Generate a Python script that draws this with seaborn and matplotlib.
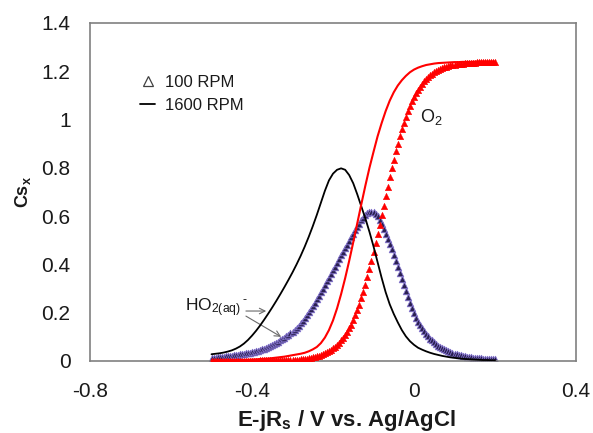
import numpy as np
import pandas as pd
import matplotlib
matplotlib.use("Agg")
import matplotlib.pyplot as plt
from matplotlib.lines import Line2D
import seaborn as sns

# ---------------- data ----------------
# 100 RPM series (markers), potential step 0.005 V from -0.5 to 0.2 V
ho2_100 = [
    0.012, 0.013, 0.014, 0.015, 0.016, 0.017, 0.018, 0.019, 0.020, 0.021,
    0.022, 0.023, 0.024, 0.0255, 0.027, 0.0285, 0.030, 0.0315, 0.033, 0.0345,
    0.036, 0.038, 0.040, 0.0425, 0.045, 0.048, 0.051, 0.0545, 0.058, 0.062,
    0.066, 0.0705, 0.075, 0.080, 0.085, 0.0905, 0.096, 0.102, 0.108, 0.115,
    0.122, 0.130, 0.138, 0.147, 0.156, 0.167, 0.178, 0.190, 0.202, 0.215,
    0.228, 0.242, 0.256, 0.270, 0.285, 0.300, 0.315, 0.330, 0.345, 0.360,
    0.376, 0.391, 0.407, 0.422, 0.437, 0.452, 0.467, 0.482, 0.497, 0.512,
    0.527, 0.541, 0.555, 0.569, 0.582, 0.593, 0.603, 0.611, 0.617, 0.619,
    0.617, 0.610, 0.600, 0.585, 0.568, 0.548, 0.528, 0.507, 0.485, 0.462,
    0.438, 0.413, 0.388, 0.363, 0.338, 0.313, 0.288, 0.264, 0.240, 0.218,
    0.198, 0.180, 0.163, 0.148, 0.135, 0.123, 0.112, 0.102, 0.093, 0.085,
    0.077, 0.070, 0.064, 0.058, 0.053, 0.048, 0.044, 0.040, 0.037, 0.034,
    0.031, 0.028, 0.026, 0.024, 0.022, 0.020, 0.018, 0.0165, 0.015, 0.014,
    0.013, 0.012, 0.011, 0.0105, 0.010, 0.0095, 0.009, 0.0085, 0.008, 0.0075,
    0.007,
]
o2_100 = [
    0.0005, 0.0005, 0.0006, 0.0006, 0.0007, 0.0007, 0.0008, 0.0008, 0.0009, 0.0009,
    0.0010, 0.0010, 0.0011, 0.0011, 0.0012, 0.0013, 0.0013, 0.0014, 0.0015, 0.0016,
    0.0017, 0.0018, 0.0019, 0.0020, 0.0021, 0.0022, 0.0023, 0.0024, 0.0025, 0.0026,
    0.0027, 0.0028, 0.0029, 0.0030, 0.0031, 0.0032, 0.0033, 0.0034, 0.0035, 0.0037,
    0.004, 0.005, 0.005, 0.006, 0.007, 0.008, 0.009, 0.010, 0.012, 0.013,
    0.015, 0.017, 0.019, 0.022, 0.025, 0.028, 0.032, 0.036, 0.041, 0.046,
    0.052, 0.059, 0.066, 0.075, 0.085, 0.095, 0.107, 0.120, 0.135, 0.151,
    0.169, 0.189, 0.210, 0.234, 0.259, 0.286, 0.315, 0.346, 0.379, 0.413,
    0.450, 0.487, 0.525, 0.565, 0.604, 0.644, 0.683, 0.722, 0.761, 0.798,
    0.833, 0.868, 0.900, 0.931, 0.960, 0.987, 1.011, 1.034, 1.056, 1.075,
    1.092, 1.108, 1.122, 1.135, 1.147, 1.158, 1.167, 1.175, 1.183, 1.189,
    1.195, 1.200, 1.205, 1.209, 1.213, 1.216, 1.219, 1.221, 1.224, 1.226,
    1.227, 1.229, 1.230, 1.231, 1.232, 1.233, 1.234, 1.235, 1.235, 1.236,
    1.236, 1.237, 1.237, 1.238, 1.238, 1.238, 1.238, 1.239, 1.239, 1.239,
    1.239,
]
# 1600 RPM series (lines), potential step 0.01 V from -0.5 to 0.2 V
ho2_1600 = [
    0.028, 0.030, 0.032, 0.035, 0.039, 0.044, 0.051, 0.060, 0.072, 0.087,
    0.105, 0.125, 0.147, 0.171, 0.196, 0.222, 0.249, 0.277, 0.306, 0.336,
    0.367, 0.400, 0.435, 0.473, 0.514, 0.558, 0.605, 0.655, 0.705, 0.748,
    0.776, 0.792, 0.798, 0.792, 0.770, 0.736, 0.690, 0.640, 0.590, 0.535,
    0.475, 0.410, 0.345, 0.285, 0.235, 0.195, 0.160, 0.128, 0.102, 0.082,
    0.067, 0.055, 0.047, 0.040, 0.034, 0.029, 0.025, 0.021, 0.018, 0.015,
    0.013, 0.011, 0.009, 0.008, 0.007, 0.006, 0.005, 0.004, 0.004, 0.003,
    0.003,
]
o2_1600 = [
    0.001, 0.001, 0.002, 0.002, 0.002, 0.003, 0.003, 0.004, 0.004, 0.005,
    0.006, 0.007, 0.008, 0.009, 0.010, 0.012, 0.014, 0.016, 0.018, 0.021,
    0.024, 0.027, 0.030, 0.034, 0.040, 0.048, 0.058, 0.074, 0.097, 0.128,
    0.168, 0.218, 0.277, 0.343, 0.415, 0.492, 0.571, 0.650, 0.727, 0.800,
    0.866, 0.930, 0.985, 1.035, 1.078, 1.113, 1.141, 1.163, 1.181, 1.196,
    1.207, 1.215, 1.221, 1.226, 1.229, 1.232, 1.234, 1.235, 1.236, 1.237,
    1.238, 1.238, 1.239, 1.239, 1.239, 1.240, 1.240, 1.240, 1.240, 1.240,
    1.240,
]
E_start, E_end = -0.5, 0.2
xticks = [-0.8, -0.4, 0.0, 0.4]
xticklabels = ["-0.8", "-0.4", "0", "0.4"]
yticks = [0, 0.2, 0.4, 0.6, 0.8, 1.0, 1.2, 1.4]
yticklabels = ["0", "0.2", "0.4", "0.6", "0.8", "1", "1.2", "1.4"]

E_slow = np.linspace(E_start, E_end, len(ho2_100))
E_slow2 = np.linspace(E_start, E_end, len(o2_100))
E_fast = np.linspace(E_start, E_end, len(ho2_1600))
E_fast2 = np.linspace(E_start, E_end, len(o2_1600))

# ---------------- style ----------------
sns.set_style("white")
plt.rcParams["font.family"] = ["Liberation Sans", "DejaVu Sans"]
plt.rcParams["mathtext.fontset"] = "custom"
plt.rcParams["mathtext.rm"] = "Liberation Sans"
plt.rcParams["mathtext.it"] = "Liberation Sans:italic"
plt.rcParams["mathtext.bf"] = "Liberation Sans:bold"
plt.rcParams["mathtext.default"] = "regular"

txt = "#1a1a1a"
fig = plt.figure(figsize=(5.93, 4.33), dpi=100)
ax = fig.add_axes([90 / 593, 1 - 361 / 433, 486 / 593, 338 / 433])

sns.scatterplot(x=E_slow, y=ho2_100, ax=ax, marker="^", s=22,
                color="#2a2050", edgecolor="#8272cc", linewidth=0.6, zorder=2)
sns.scatterplot(x=E_slow2, y=o2_100, ax=ax, marker="^", s=22,
                color="#ff0000", edgecolor="#ff0000", linewidth=0.3, zorder=3)
sns.lineplot(x=E_fast, y=ho2_1600, ax=ax, color="black", linewidth=1.3,
             estimator=None, sort=False, zorder=4)
sns.lineplot(x=E_fast2, y=o2_1600, ax=ax, color="#ff0000", linewidth=1.5,
             estimator=None, sort=False, zorder=5)

ax.set_xlim(-0.8, 0.4)
ax.set_ylim(0, 1.4)
ax.set_xticks(xticks)
ax.set_xticklabels(xticklabels)
ax.set_yticks(yticks)
ax.set_yticklabels(yticklabels)
ax.tick_params(axis="both", length=0, labelsize=15, colors=txt)
ax.tick_params(axis="y", pad=14)
ax.tick_params(axis="x", pad=15)
for sp in ax.spines.values():
    sp.set_visible(True)
    sp.set_color("#808080")
    sp.set_linewidth(1.2)
ax.grid(False)

ax.set_xlabel(r"E-jR$_\mathbf{s}$ / V vs. Ag/AgCl", fontsize=16,
              fontweight="bold", color=txt)
ax.xaxis.set_label_coords(0.527, -0.192)
ax.xaxis.label.set_va("baseline")
ax.set_ylabel(r"Cs$_\mathbf{x}$", fontsize=13, fontweight="bold", color=txt,
              rotation=90)
ax.yaxis.label.set_va("center")
ax.yaxis.set_label_coords(-0.138, 0.5)

# annotations
ax.text(0.015, 1.01, r"O$_2$", fontsize=13, color=txt, ha="left", va="center")
ax.text(-0.565, 0.22, r"HO$_{2(aq)}$", fontsize=12.5, color=txt,
        ha="left", va="center")
ax.text(-0.424, 0.252, "-", fontsize=9, color=txt, ha="left", va="center")
arrow_kw = dict(arrowstyle="->", color="#6a6a6a", lw=0.8, shrinkA=0, shrinkB=0)
ax.annotate("", xy=(-0.365, 0.207), xytext=(-0.415, 0.207), arrowprops=arrow_kw)
ax.annotate("", xy=(-0.328, 0.100), xytext=(-0.415, 0.186), arrowprops=arrow_kw)

# legend
handles = [
    Line2D([], [], linestyle="none", marker="^", markersize=7,
           markerfacecolor="none", markeredgecolor="#404040", markeredgewidth=0.9),
    Line2D([], [], color="black", linewidth=1.3),
]
leg = ax.legend(handles, ["100 RPM", "1600 RPM"], loc="center left",
                bbox_to_anchor=(0.103, 0.79), frameon=False, fontsize=12,
                handlelength=0.9, handletextpad=0.6, labelspacing=0.45,
                borderpad=0, borderaxespad=0)
for t in leg.get_texts():
    t.set_color(txt)

fig.savefig("out.png", dpi=100)
